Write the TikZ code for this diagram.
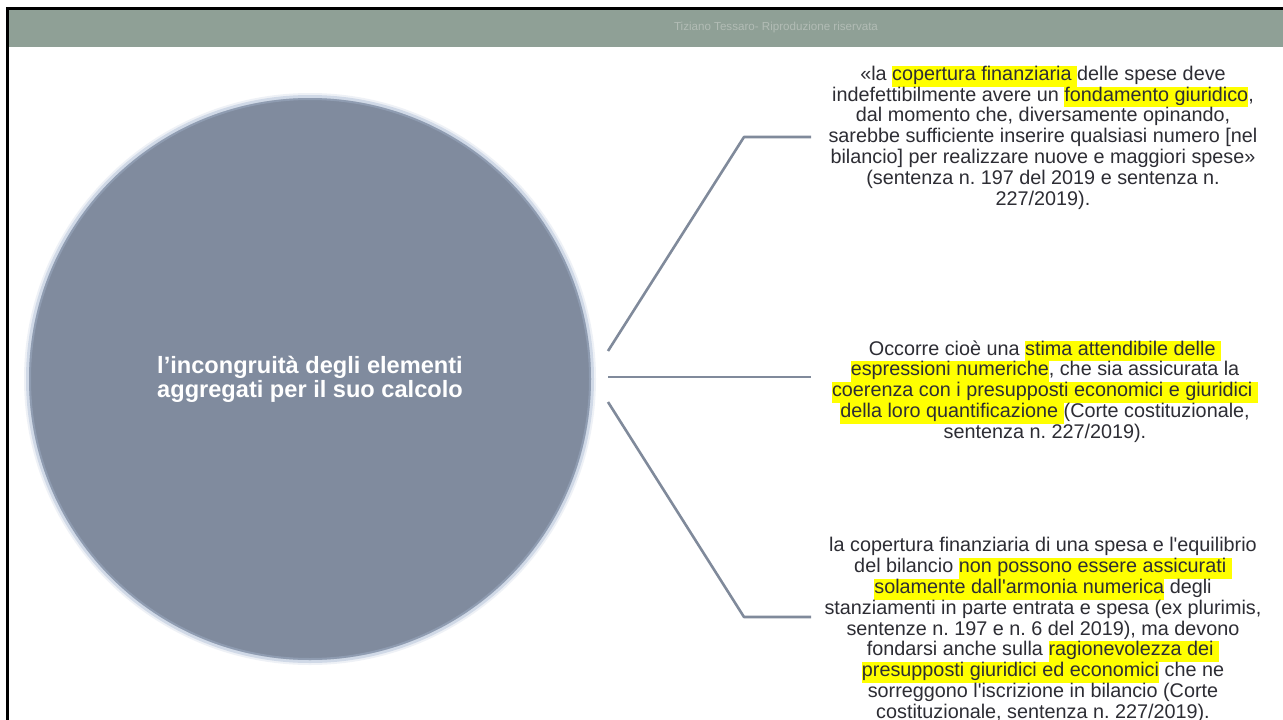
\documentclass[tikz,border=0pt]{standalone}
\usepackage{fontspec}
\newfontfamily\arialf{Liberation Sans}
\frenchspacing
\definecolor{bandgreen}{RGB}{143,160,150}
\definecolor{bandtext}{RGB}{178,188,181}
\definecolor{discfill}{RGB}{128,139,158}
\definecolor{discrim}{RGB}{172,188,214}
\definecolor{linkgray}{RGB}{128,138,155}
\definecolor{bodytext}{RGB}{45,45,52}
\definecolor{hlyellow}{RGB}{255,255,0}
% yellow marker behind a phrase, as tall as one text line
\newcommand{\hl}[1]{{\setlength{\fboxsep}{0pt}\colorbox{hlyellow}{\strut #1}}}
\tikzset{
  bodyblock/.style={align=center, inner sep=0pt, text=bodytext,
    font=\arialf\fontsize{19.8}{20.8}\selectfont\frenchspacing},
  link/.style={draw=linkgray, line width=2.6pt, line join=round},
}
\begin{document}
\begin{tikzpicture}[x=1pt, y=-1pt]
\useasboundingbox (0,0) rectangle (1283,720);
\clip (0,0) rectangle (1283,720);
\fill[white] (0,0) rectangle (1283,720);

% header band with its black frame
\fill[bandgreen] (8,9) rectangle (1283,47);
\fill[black] (6,7) rectangle (1283,10);
\fill[black] (6,7) rectangle (9,720);
\node[font=\arialf\fontsize{11.6}{13}\selectfont, text=bandtext, inner sep=0pt]
  (hdr) at (776,28) {Tiziano Tessaro- Riproduzione riservata};

% central disc with a soft bluish rim
\fill[discrim, opacity=0.2] (310,379) circle[radius=286];
\fill[discrim, opacity=0.45] (310,379) circle[radius=284];
\node[circle, fill=discfill, minimum size=562pt, inner sep=0pt,
  align=center, text=white, font=\arialf\bfseries\fontsize{23.6}{24}\selectfont]
  (c) at (310,379) {l’incongruità degli elementi\\aggregati per il suo calcolo };
\draw[discrim, opacity=0.35, line width=2pt] (c.center) circle[radius=280];

% connector points
\coordinate (s1) at (608,351);
\coordinate (k1) at (744,137);
\coordinate (f1) at (811,137);
\coordinate (s2) at (608,377);
\coordinate (f2) at (811,377);
\coordinate (s3) at (608,402);
\coordinate (k3) at (744,617);
\coordinate (f3) at (811,617);

\draw[link] (s1) -- (k1) -- (f1);
\draw[link] (s2) -- (f2);
\draw[link] (s3) -- (k3) -- (f3);

% text blocks
\node[bodyblock] (t1) at (1043,137.5) {%
«la \hl{copertura finanziaria }delle spese deve\\
indefettibilmente avere un \hl{fondamento giuridico},\\
dal momento che, diversamente opinando,\\
sarebbe sufficiente inserire qualsiasi numero [nel\\
bilancio] per realizzare nuove e maggiori spese»\\
(sentenza n. 197 del 2019 e sentenza n.\\
227/2019).};

\node[bodyblock] (t2) at (1045,391.5) {%
Occorre cioè una \hl{stima attendibile delle }\\
\hl{espressioni numeriche}, che sia assicurata la\\
\hl{coerenza con i presupposti economici e giuridici }\\
\hl{della loro quantificazione }(Corte costituzionale,\\
sentenza n. 227/2019).};

\node[bodyblock] (t3) at (1043,630) {%
la copertura finanziaria di una spesa e l'equilibrio\\
del bilancio \hl{non possono essere assicurati }\\
\hl{solamente dall'armonia numerica} degli\\
stanziamenti in parte entrata e spesa (ex plurimis,\\
sentenze n. 197 e n. 6 del 2019), ma devono\\
fondarsi anche sulla \hl{ragionevolezza dei }\\
\hl{presupposti giuridici ed economici} che ne\\
sorreggono l'iscrizione in bilancio (Corte\\
costituzionale, sentenza n. 227/2019).};
\end{tikzpicture}
\end{document}
